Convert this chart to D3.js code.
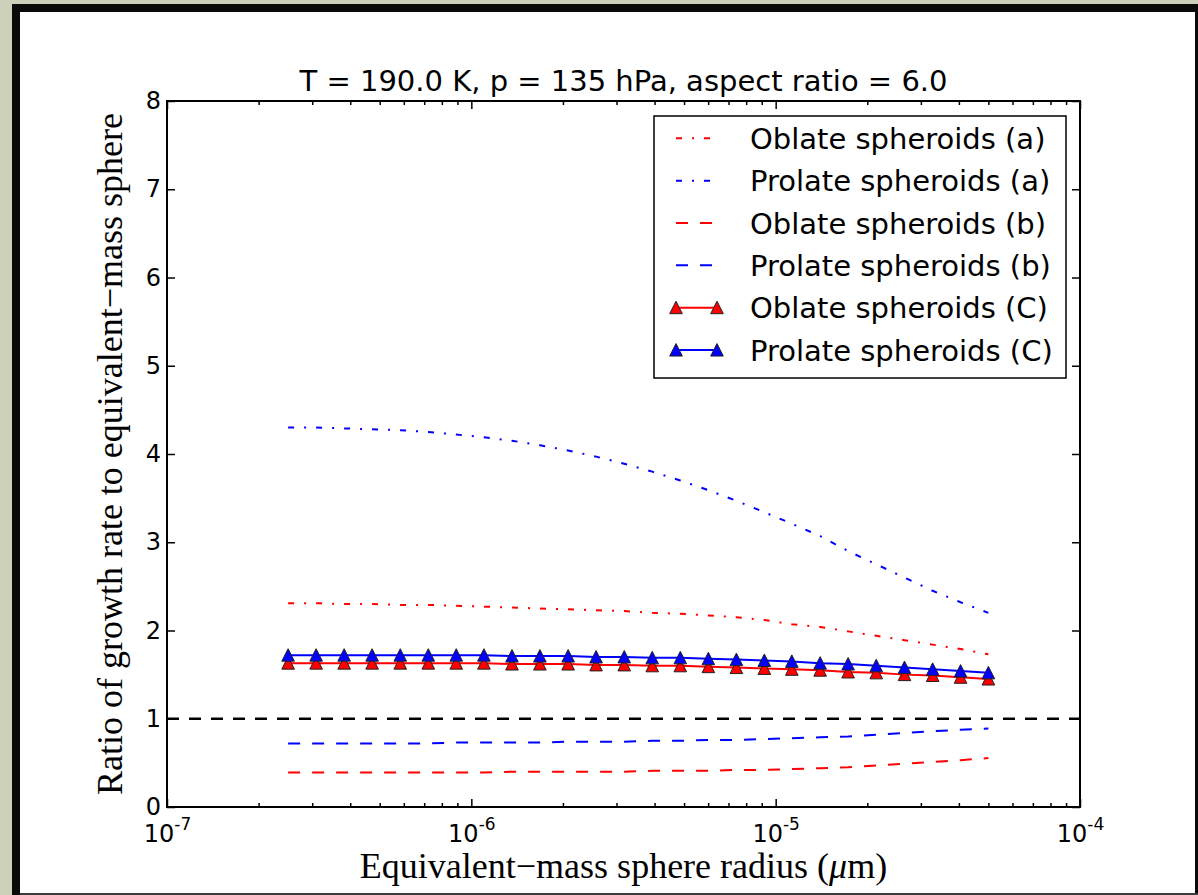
<!DOCTYPE html>
<html>
<head>
<meta charset="utf-8">
<script src="https://cdn.jsdelivr.net/npm/d3@7"></script>
<style>
body { margin: 0; background: #cdd1b9; }
svg { display: block; }
</style>
</head>
<body>
<svg id="chart" width="1198" height="895"></svg>
<script>
// equivalent-mass sphere radius (x values)
var radius = [2.50e-7, 3.09e-7, 3.82e-7, 4.72e-7, 5.84e-7, 7.22e-7, 8.92e-7, 1.10e-6, 1.36e-6,
              1.68e-6, 2.08e-6, 2.57e-6, 3.18e-6, 3.93e-6, 4.86e-6, 6.01e-6, 7.43e-6, 9.18e-6,
              1.13e-5, 1.40e-5, 1.73e-5, 2.14e-5, 2.65e-5, 3.28e-5, 4.05e-5, 5.00e-5];

var oblateA  = [2.31, 2.31, 2.30, 2.30, 2.29, 2.29, 2.28, 2.27, 2.26, 2.25, 2.24, 2.23, 2.22,
                2.20, 2.19, 2.17, 2.15, 2.12, 2.07, 2.04, 1.99, 1.94, 1.89, 1.84, 1.79, 1.73];
var prolateA = [4.30, 4.30, 4.29, 4.28, 4.27, 4.25, 4.22, 4.19, 4.15, 4.10, 4.04, 3.97, 3.89,
                3.80, 3.70, 3.59, 3.47, 3.34, 3.21, 3.07, 2.90, 2.75, 2.60, 2.45, 2.32, 2.20];
var oblateB  = [0.39, 0.39, 0.39, 0.39, 0.39, 0.39, 0.39, 0.39, 0.40, 0.40, 0.40, 0.40, 0.40,
                0.41, 0.41, 0.41, 0.42, 0.42, 0.43, 0.44, 0.45, 0.47, 0.49, 0.51, 0.53, 0.555];
var prolateB = [0.72, 0.72, 0.72, 0.72, 0.72, 0.72, 0.73, 0.73, 0.73, 0.73, 0.74, 0.74, 0.74,
                0.75, 0.75, 0.76, 0.76, 0.77, 0.78, 0.79, 0.80, 0.82, 0.84, 0.86, 0.875, 0.89];
var oblateC  = [1.63, 1.63, 1.63, 1.63, 1.63, 1.63, 1.63, 1.63, 1.62, 1.62, 1.62, 1.61, 1.61,
                1.60, 1.60, 1.59, 1.58, 1.57, 1.56, 1.55, 1.53, 1.52, 1.50, 1.49, 1.47, 1.45];
var prolateC = [1.72, 1.72, 1.72, 1.72, 1.72, 1.72, 1.72, 1.72, 1.71, 1.71, 1.71, 1.70, 1.70,
                1.69, 1.69, 1.68, 1.67, 1.66, 1.65, 1.63, 1.62, 1.60, 1.58, 1.56, 1.54, 1.52];

var refLine = [1];
var xMajor = [1e-7, 1e-6, 1e-5, 1e-4];
var xExponents = ['-7', '-6', '-5', '-4'];
var yTicks = [0, 1, 2, 3, 4, 5, 6, 7, 8];

var series = [
  {name: 'Oblate spheroids (a)',  values: oblateA,  color: '#ff0000', dash: '6,10,2,10', marker: false},
  {name: 'Prolate spheroids (a)', values: prolateA, color: '#0000ff', dash: '6,10,2,10', marker: false},
  {name: 'Oblate spheroids (b)',  values: oblateB,  color: '#ff0000', dash: '12,12', marker: false},
  {name: 'Prolate spheroids (b)', values: prolateB, color: '#0000ff', dash: '12,12', marker: false},
  {name: 'Oblate spheroids (C)',  values: oblateC,  color: '#ff0000', dash: null, marker: true},
  {name: 'Prolate spheroids (C)', values: prolateC, color: '#0000ff', dash: null, marker: true}
];

var svg = d3.select('#chart');
var plotLeft = 167, plotRight = 1080, plotTop = 101, plotBottom = 807;
var sansFont = '"DejaVu Sans", sans-serif';
var serifFont = '"Liberation Serif", "DejaVu Serif", serif';

// window frame
svg.append('rect').attr('x', 0).attr('y', 0).attr('width', 1198).attr('height', 895).attr('fill', '#cdd1b9');
svg.append('rect').attr('x', 12).attr('y', 4).attr('width', 1186).attr('height', 891).attr('fill', '#0a0a0a');
svg.append('rect').attr('x', 20).attr('y', 12).attr('width', 1175).attr('height', 881).attr('fill', '#ffffff');
svg.append('rect').attr('x', 20).attr('y', 893).attr('width', 1178).attr('height', 2).attr('fill', '#3c3c3c');

var xScale = d3.scaleLog().domain([1e-7, 1e-4]).range([plotLeft, plotRight]);
var yScale = d3.scaleLinear().domain([0, 8]).range([plotBottom, plotTop]);

var xMinor = [];
xMajor.slice(0, -1).forEach(function(m) {
  for (var k = 2; k < 10; k++) xMinor.push(m * k);
});

// data lines
var line = d3.line()
  .x(function(d, i) { return xScale(radius[i]); })
  .y(function(d) { return yScale(d); });

var plot = svg.append('g');

plot.selectAll('.hline')
  .data(refLine)
  .enter()
  .append('line')
    .attr('x1', plotLeft).attr('x2', plotRight)
    .attr('y1', d => yScale(d)).attr('y2', d => yScale(d))
    .attr('stroke', '#000').attr('stroke-width', 2.6)
    .attr('stroke-dasharray', '12,10');

var tri = 'M0,-6.5L6.3,6L-6.3,6Z';

series.forEach(function(s) {
  plot.append('path')
    .attr('d', line(s.values))
    .attr('fill', 'none')
    .attr('stroke', s.color)
    .attr('stroke-width', 2)
    .attr('stroke-dasharray', s.dash);
  if (s.marker) {
    plot.selectAll(null)
      .data(s.values)
      .enter()
      .append('path')
        .attr('d', tri)
        .attr('transform', (d, i) => `translate(${xScale(radius[i])},${yScale(d)})`)
        .attr('fill', s.color)
        .attr('stroke', '#222')
        .attr('stroke-width', 1);
  }
});

// axes
function styleAxis(g) {
  g.select('.domain').remove();
  g.selectAll('line').attr('stroke', '#000').attr('stroke-width', 1.5);
  g.selectAll('text').attr('font-family', sansFont).attr('font-size', 24).attr('fill', '#000');
}

svg.append('g')
  .attr('transform', `translate(0,${plotBottom})`)
  .call(d3.axisBottom(xScale).tickValues(xMajor).tickSizeInner(-8).tickSizeOuter(0).tickPadding(18))
  .call(styleAxis)
  .selectAll('text')
    .attr('dy', '0.71em')
    .each(function(d, i) {
      var t = d3.select(this).text(null);
      t.append('tspan').text('10');
      t.append('tspan').attr('font-size', 17).attr('dy', -12).text(xExponents[i]);
    });

svg.append('g')
  .attr('transform', `translate(0,${plotBottom})`)
  .call(d3.axisBottom(xScale).tickValues(xMinor).tickSizeInner(-4).tickSizeOuter(0).tickFormat(''))
  .call(styleAxis);

svg.append('g')
  .attr('transform', `translate(0,${plotTop})`)
  .call(d3.axisTop(xScale).tickValues(xMajor).tickSizeInner(-8).tickSizeOuter(0).tickFormat(''))
  .call(styleAxis);

svg.append('g')
  .attr('transform', `translate(0,${plotTop})`)
  .call(d3.axisTop(xScale).tickValues(xMinor).tickSizeInner(-4).tickSizeOuter(0).tickFormat(''))
  .call(styleAxis);

svg.append('g')
  .attr('transform', `translate(${plotLeft},0)`)
  .call(d3.axisLeft(yScale).tickValues(yTicks).tickSizeInner(-8).tickSizeOuter(0).tickPadding(6).tickFormat(d3.format('d')))
  .call(styleAxis);

svg.append('g')
  .attr('transform', `translate(${plotRight},0)`)
  .call(d3.axisRight(yScale).tickValues(yTicks).tickSizeInner(-8).tickSizeOuter(0).tickFormat(''))
  .call(styleAxis);

svg.append('rect')
  .attr('x', plotLeft).attr('y', plotTop)
  .attr('width', plotRight - plotLeft).attr('height', plotBottom - plotTop)
  .attr('fill', 'none').attr('stroke', '#000').attr('stroke-width', 2);

// title and axis labels
svg.append('text')
  .attr('x', (plotLeft + plotRight) / 2).attr('y', 91)
  .attr('text-anchor', 'middle')
  .attr('font-family', sansFont).attr('font-size', 29)
  .text('T = 190.0 K, p = 135 hPa, aspect ratio = 6.0');

var xLabel = svg.append('text')
  .attr('x', (plotLeft + plotRight) / 2).attr('y', 878)
  .attr('text-anchor', 'middle')
  .attr('font-family', serifFont).attr('font-size', 36);
xLabel.append('tspan').text('Equivalent\u2212mass sphere radius (');
xLabel.append('tspan').attr('font-style', 'italic').text('\u03bc');
xLabel.append('tspan').text('m)');

svg.append('text')
  .attr('transform', `translate(122,${(plotTop + plotBottom) / 2}) rotate(-90)`)
  .attr('text-anchor', 'middle')
  .attr('font-family', serifFont).attr('font-size', 36)
  .text('Ratio of growth rate to equivalent\u2212mass sphere');

// legend
var legend = svg.append('g');
legend.append('rect')
  .attr('x', 654).attr('y', 116).attr('width', 412).attr('height', 262)
  .attr('fill', '#fff').attr('stroke', '#000').attr('stroke-width', 1.5);

var rows = legend.selectAll('.entry')
  .data(series)
  .enter()
  .append('g')
    .attr('transform', (d, i) => `translate(0,${138.3 + i * 42.35})`);

rows.append('line')
  .attr('x1', 676).attr('x2', 717)
  .attr('stroke', d => d.color).attr('stroke-width', 2)
  .attr('stroke-dasharray', d => d.dash);

rows.filter(d => d.marker)
  .selectAll('.m')
  .data(d => [[676, d.color], [717, d.color]])
  .enter()
  .append('path')
    .attr('d', tri)
    .attr('transform', d => `translate(${d[0]},0)`)
    .attr('fill', d => d[1])
    .attr('stroke', '#222').attr('stroke-width', 1);

rows.append('text')
  .attr('x', 750).attr('y', 10.7)
  .attr('font-family', sansFont).attr('font-size', 29)
  .text(d => d.name);
</script>
</body>
</html>
